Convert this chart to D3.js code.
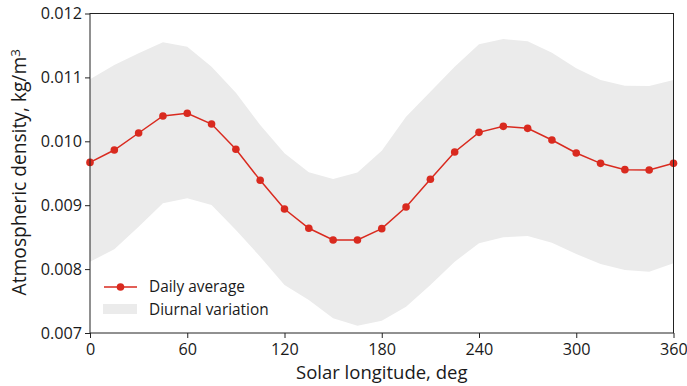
<!DOCTYPE html>
<html><head><meta charset="utf-8">
<script src="https://cdn.jsdelivr.net/npm/d3@7"></script>
<style>
body{margin:0;background:#fff;}
text{font-family:"Open Sans",sans-serif;fill:#1a1a1a;}
</style></head>
<body><svg id="c" width="687" height="386"></svg>
<script>
const longitudes = [0,15,30,45,60,75,90,105,120,135,150,165,180,195,210,225,240,255,270,285,300,315,330,345,360];
const dailyAverage = [0.00967,0.009864,0.01013,0.010396,0.010438,0.01027,0.009875,0.00939,0.008941,0.008639,0.008455,0.008455,0.008633,0.008972,0.009405,0.009833,0.01014,0.010234,0.010203,0.01002,0.009817,0.009655,0.009556,0.009551,0.009655];
const diurnalUpper = [0.01097,0.011194,0.011377,0.011549,0.01148,0.011168,0.010761,0.010255,0.009812,0.009515,0.00941,0.00951,0.009853,0.010385,0.010776,0.011168,0.011518,0.0116,0.011565,0.011387,0.011142,0.01096,0.01087,0.010865,0.01096];
const diurnalLower = [0.008116,0.00831,0.008664,0.00903,0.009108,0.009003,0.008612,0.008194,0.007751,0.007516,0.00723,0.007114,0.007192,0.007412,0.00775,0.008116,0.008404,0.008498,0.008518,0.008413,0.008236,0.00808,0.007986,0.00796,0.008091];
const xTicks = [0,60,120,180,240,300,360];
const yTicks = [0.007,0.008,0.009,0.010,0.011,0.012];
const legendLabels = ["Daily average","Diurnal variation"];

const svg = d3.select("#c");
const m = {l:90, r:673.5, t:13.5, b:333};
const x = d3.scaleLinear().domain([0,360]).range([m.l,m.r]);
const y = d3.scaleLinear().domain([0.007,0.012]).range([m.b,m.t]);
const red = "#d92a1f", band = "#ebebeb";

const rows = longitudes.map((d,i)=>({x:d,avg:dailyAverage[i],hi:diurnalUpper[i],lo:diurnalLower[i]}));

svg.append("path").datum(rows)
  .attr("fill",band)
  .attr("d",d3.area().x(d=>x(d.x)).y0(d=>y(d.lo)).y1(d=>y(d.hi)));

svg.append("path").datum(rows)
  .attr("fill","none").attr("stroke",red).attr("stroke-width",1.5)
  .attr("d",d3.line().x(d=>x(d.x)).y(d=>y(d.avg)));

svg.append("g").selectAll("circle").data(rows).join("circle")
  .attr("cx",d=>x(d.x)).attr("cy",d=>y(d.avg)).attr("r",3.8).attr("fill",red);

// frame
svg.append("rect").attr("x",m.l).attr("y",m.t).attr("width",m.r-m.l).attr("height",m.b-m.t)
  .attr("fill","none").attr("stroke","#222").attr("stroke-width",1);

const xAxis = svg.append("g").attr("transform",`translate(0,${m.b})`)
  .call(d3.axisBottom(x).tickValues(xTicks).tickSize(5).tickPadding(3).tickFormat(d3.format("d")));
const yAxis = svg.append("g").attr("transform",`translate(${m.l},0)`)
  .call(d3.axisLeft(y).tickValues(yTicks).tickSize(5).tickPadding(3).tickFormat(d3.format(".3f")));
[xAxis,yAxis].forEach(a=>{
  a.select(".domain").remove();
  a.selectAll("line").attr("stroke","#222");
  a.selectAll("text").style("font-size","16.2px").attr("fill","#1a1a1a");
});
xAxis.selectAll("text").attr("dy","0.85em");

svg.append("text").attr("x",(m.l+m.r)/2).attr("y",379).attr("text-anchor","middle")
  .style("font-size","18.5px").text("Solar longitude, deg");
const yl = svg.append("text").attr("transform",`translate(26,${(m.t+m.b)/2 - 1}) rotate(-90)`)
  .attr("text-anchor","middle").style("font-size","19.2px");
yl.append("tspan").text("Atmospheric density, kg/m");
yl.append("tspan").attr("dy","-0.45em").style("font-size","13.5px").text("3");

// legend
const lg = svg.append("g");
lg.append("line").attr("x1",104).attr("x2",137).attr("y1",287).attr("y2",287).attr("stroke",red).attr("stroke-width",1.5);
lg.append("circle").attr("cx",120.5).attr("cy",287).attr("r",3.8).attr("fill",red);
lg.append("rect").attr("x",103).attr("y",304).attr("width",34).attr("height",10).attr("fill",band);
lg.selectAll("text.lab").data(legendLabels).join("text").attr("class","lab")
  .attr("x",149).attr("y",(d,i)=>287+i*23).attr("dy","0.35em").style("font-size","15.4px").text(d=>d);
</script></body></html>
